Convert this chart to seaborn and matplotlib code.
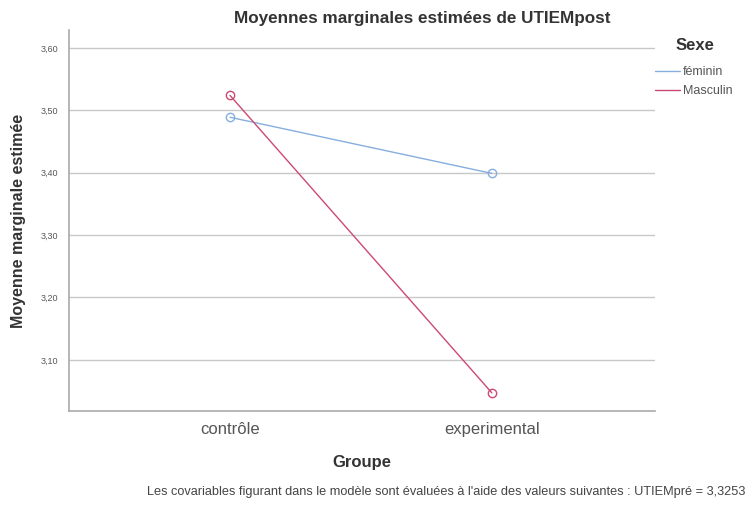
import matplotlib
matplotlib.use("Agg")
import matplotlib.pyplot as plt
import seaborn as sns
import pandas as pd
from matplotlib.lines import Line2D

groupes = ["contrôle", "experimental"]
sexes = ["féminin", "Masculin"]
feminin = [3.489, 3.399]
masculin = [3.524, 3.047]
yticks = [3.10, 3.20, 3.30, 3.40, 3.50, 3.60]
ytick_labels = ["3,10", "3,20", "3,30", "3,40", "3,50", "3,60"]
colors = {"féminin": "#86aede", "Masculin": "#cc4a72"}

df = pd.DataFrame({
    "Groupe": groupes * 2,
    "Sexe": [sexes[0]] * 2 + [sexes[1]] * 2,
    "val": feminin + masculin,
})

sns.set_style("white")
plt.rcParams["font.family"] = ["Liberation Sans", "DejaVu Sans"]

fig = plt.figure(figsize=(7.5, 5.08), dpi=100)
ax = fig.add_axes([0.092, 0.191, 0.781, 0.750])

sns.lineplot(data=df, x="Groupe", y="val", hue="Sexe", palette=colors,
             marker="o", markersize=6, lw=1.0,
             ax=ax, legend=False, sort=False)
for ln in ax.lines:
    ln.set_markerfacecolor("none")
    ln.set_markeredgecolor(ln.get_color())
    ln.set_markeredgewidth(1.0)

ax.set_xlim(-0.615, 1.622)
ax.set_ylim(3.018, 3.629)
ax.set_yticks(yticks)
ax.set_yticklabels(ytick_labels, fontsize=6.5, color="#555555")
ax.tick_params(axis="x", labelsize=12, colors="#555555", length=0, pad=8)
ax.tick_params(axis="y", length=0, pad=8)
ax.grid(axis="y", color="#c8c8c8", lw=1.0)
ax.set_axisbelow(True)
for s in ["top", "right"]:
    ax.spines[s].set_visible(False)
for s in ["left", "bottom"]:
    ax.spines[s].set_color("#aaaaaa")
    ax.spines[s].set_linewidth(1.2)

ax.set_xlabel("Groupe", fontsize=12, fontweight="bold", color="#333333", labelpad=13)
ax.set_ylabel("Moyenne marginale estimée", fontsize=11.5, fontweight="bold", color="#333333", labelpad=10)

fig.text(0.563, 1 - 18 / 508, "Moyennes marginales estimées de UTIEMpost",
         ha="center", va="center", fontsize=12.3, fontweight="bold", color="#333333")

fig.text(695 / 750, 1 - 45 / 508, "Sexe", ha="center", va="center",
         fontsize=12, fontweight="bold", color="#333333")
handles = [Line2D([], [], color=colors[s], lw=1.0) for s in sexes]
leg = fig.legend(handles, sexes, loc="upper left",
                 bbox_to_anchor=(655 / 750, 1 - 66 / 508), frameon=False, fontsize=9,
                 handlelength=2.0, handletextpad=0.2, labelspacing=0.55,
                 borderpad=0, borderaxespad=0)
for t in leg.get_texts():
    t.set_color("#555555")

fig.text(0.994, 1 - 492 / 508,
         "Les covariables figurant dans le modèle sont évaluées à l'aide des valeurs suivantes : UTIEMpré = 3,3253",
         ha="right", va="center", fontsize=9.2, color="#444444")

fig.savefig("out.png", dpi=100)
